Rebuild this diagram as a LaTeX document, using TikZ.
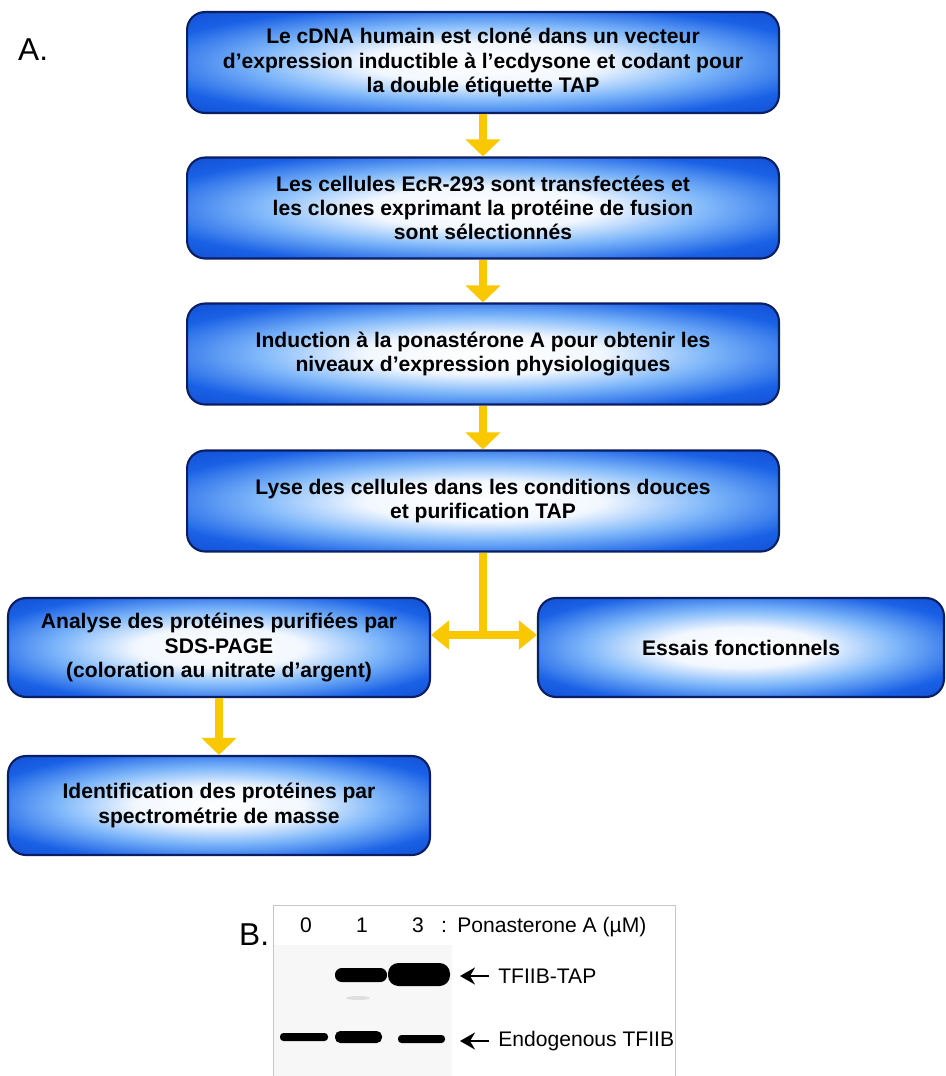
\documentclass[tikz,border=0pt]{standalone}
\usepackage{fontspec}
\setmainfont{Liberation Sans}
\usetikzlibrary{arrows.meta,positioning,calc}

\definecolor{jaune}{RGB}{250,200,0}
\definecolor{bord}{RGB}{10,30,100}
% glow of the boxes
\pgfdeclareradialshading{lueur}{\pgfpoint{0bp}{0bp}}{%
  rgb(0bp)=(1,1,1);
  rgb(10bp)=(0.95,0.97,1);
  rgb(19bp)=(0.50,0.72,0.98);
  rgb(29bp)=(0.10,0.38,0.90);
  rgb(44bp)=(0.04,0.22,0.74);
  rgb(72bp)=(0.02,0.11,0.45)}

\begin{document}
\begin{tikzpicture}[
    % GLOBAL CFG
    x=0.02cm, y=-0.02cm,
    font=\fontsize{12}{13.8}\selectfont\bfseries,
    >=Latex,
    % Styles
    etape/.style={% For the blue boxes
        rectangle,
        rounded corners=0.36cm,
        draw=bord,
        line width=1.2pt,
        shade, shading=lueur,
        align=center,
        minimum width=11.84cm,
        minimum height=2.02cm,
        inner sep=2pt,
        },
    etapeG/.style={% For the smaller boxes
        etape,
        minimum width=8.44cm,
        minimum height=1.98cm,
        },
    fleche/.style={% Yellow arrows
        jaune,
        line width=0.16cm,
        -{Triangle[width=0.68cm,length=0.34cm]},
        },
    lettre/.style={% A. and B.
        font=\fontsize{18}{20}\selectfont,
        anchor=base west,
        },
    gel/.style={% texts of the blot
        font=\fontsize{12}{13}\selectfont,
        },
    fin/.style={% thin black arrows
        line width=0.05cm,
        -{Stealth[length=0.3cm,width=0.34cm,inset=0.1cm]},
        shorten <=5,
        },
    ]

\useasboundingbox (0,0) rectangle (946,1076);

    % Labels
    \node[lettre] (A) at (12,60) {A.};
    \node[lettre] (B) at (233,945) {B.};

    % Draw the boxes
    \node[etape] (clone) at (483,62.5) {Le cDNA humain est cloné dans un vecteur\\d’expression inductible à l’ecdysone et codant pour\\la double étiquette TAP};
    \node[etape] (transf) at (483,208) {Les cellules EcR-293 sont transfectées et\\les clones exprimant la protéine de fusion\\sont sélectionnés};
    \node[etape] (induc) at (483,354) {Induction à la ponastérone A pour obtenir les\\niveaux d’expression physiologiques};
    \node[etape] (lyse) at (483,501) {Lyse des cellules dans les conditions douces\\et purification TAP};
    \node[etapeG] (sds) at (219,647.5) {Analyse des protéines purifiées par\\SDS-PAGE\\(coloration au nitrate d’argent)};
    \node[etapeG, minimum width=8.12cm] (essais) at (741,647.5) {Essais fonctionnels};
    \node[etapeG] (ident) at (219,805.5) {Identification des protéines par\\spectrométrie de masse};

    % Arrows
    \draw[fleche] (clone) -- (transf);
    \draw[fleche] (transf) -- (induc);
    \draw[fleche] (induc) -- (lyse);
    \coordinate (jonction) at (483,635);
    \draw[jaune, line width=0.16cm] (lyse) -- (jonction);
    \draw[fleche, {Triangle[width=0.56cm,length=0.36cm]}-{Triangle[width=0.56cm,length=0.36cm]}] (sds.east |- jonction) -- (essais.west |- jonction);
    \draw[fleche] (sds) -- (ident);

    % The blot
    \fill[gray!6] (274,945) rectangle (452,1076);
    \draw[gray!45, line width=0.5pt] (273,1076) |- (675,905) -- (675,1076);
    \fill[gray!25] (358,998) ellipse [x radius=12, y radius=2];
    % bands TFIIB-TAP
    \fill[black, rounded corners=3.8pt] (335,968) rectangle (387,982);
    \fill[black, rounded corners=6pt] (388,963) rectangle (450,986);
    % bands endogenous
    \fill[black, rounded corners=2pt] (280,1033) rectangle (328,1041);
    \fill[black, rounded corners=3pt] (335,1031) rectangle (382,1043);
    \fill[black, rounded corners=2pt] (398,1035) rectangle (445,1043);

    \node[gel, anchor=base] (l0) at (306,932) {0};
    \node[gel, anchor=base] (l1) at (362,932) {1};
    \node[gel, anchor=base] (l3) at (418,932) {3};
    \node[gel, anchor=base] (deux) at (444,932) {:};
    \node[gel, anchor=base west, inner sep=0pt] (pona) at (457,932) {Ponasterone A (µM)};

    \node[gel, anchor=west, inner sep=0pt] (tap) at (498,976) {TFIIB-TAP};
    \coordinate (pointeTAP) at (460,976);
    \draw[fin] (tap) -- (pointeTAP);
    \node[gel, anchor=west, inner sep=0pt] (endo) at (498,1041) {Endogenous TFIIB};
    \coordinate (pointeEndo) at (460,1041);
    \draw[fin] (endo) -- (pointeEndo);

\end{tikzpicture}
\end{document}
